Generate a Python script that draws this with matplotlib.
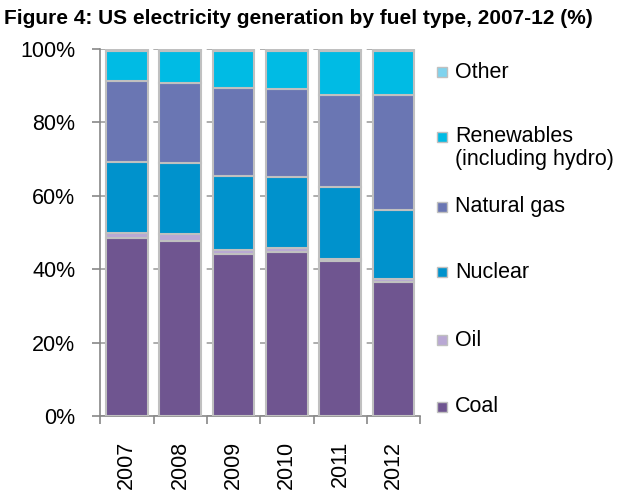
import matplotlib.pyplot as plt
from matplotlib.patches import Rectangle
import numpy as np

plt.rcParams['font.family'] = ['Liberation Sans', 'DejaVu Sans']

years = ["2007", "2008", "2009", "2010", "2011", "2012"]
coal = [48.5, 47.8, 44.1, 44.6, 42.3, 36.6]
oil = [1.5, 1.8, 1.2, 1.2, 0.5, 0.7]
nuclear = [19.3, 19.4, 20.2, 19.3, 19.5, 18.8]
natural_gas = [21.9, 21.8, 23.8, 24.0, 25.1, 31.3]
renewables = [8.2, 8.6, 10.1, 10.3, 12.0, 12.0]
other = [0.6, 0.6, 0.6, 0.6, 0.6, 0.6]

series = [
    ("Coal", coal, "#6f5590"),
    ("Oil", oil, "#b9a8d4"),
    ("Nuclear", nuclear, "#0092cc"),
    ("Natural gas", natural_gas, "#6a76b3"),
    ("Renewables\n(including hydro)", renewables, "#00bbe4"),
    ("Other", other, "#7fd3ee"),
]

fs = 15.5

fig = plt.figure(figsize=(6.3, 5), dpi=100)
ax = fig.add_axes([0.159, 0.168, 0.508, 0.734])

x = np.arange(len(years))
bottom = np.zeros(len(years))
for name, vals, color in series:
    ax.bar(x, vals, bottom=bottom, width=0.78, color=color,
           edgecolor="#c0c0c0", linewidth=1.5, zorder=3)
    bottom += np.array(vals)

ax.set_xlim(-0.5, len(years) - 0.5)
ax.set_ylim(0, 100)
ax.set_yticks([0, 20, 40, 60, 80, 100])
ax.set_yticklabels(["0%", "20%", "40%", "60%", "80%", "100%"], fontsize=fs)
ax.yaxis.grid(True, linestyle=(0, (4, 4)), color="#a0a0a0", linewidth=1.2, zorder=0)
ax.set_xticks(x)
ax.set_xticklabels(years, rotation=90, fontsize=fs)
ax.tick_params(axis="x", which="major", length=0, pad=18)
ax.set_xticks(np.arange(-0.5, len(years)), minor=True)
ax.tick_params(axis="x", which="minor", length=6, color="#888888", width=1.2)
ax.tick_params(axis="y", length=6, color="#888888", width=1.2, pad=12)
for s in ["top", "right"]:
    ax.spines[s].set_visible(False)
for s in ["left", "bottom"]:
    ax.spines[s].set_color("#888888")
    ax.spines[s].set_linewidth(1.2)

# legend drawn by hand to match the spacing of the original
legend_y = {"Other": 72, "Renewables\n(including hydro)": 137, "Natural gas": 207,
            "Nuclear": 272, "Oil": 340, "Coal": 407}
for name, vals, color in series:
    py = legend_y[name]
    fig.add_artist(Rectangle((437 / 630, 1 - (py + 5) / 500), 10 / 630, 10 / 500,
                             transform=fig.transFigure, facecolor=color,
                             edgecolor="#c0c0c0", linewidth=1))
    if "\n" in name:
        fig.text(455 / 630, 1 - (py - 11) / 500, name, fontsize=fs, va="top",
                 ha="left", linespacing=1.1)
    else:
        fig.text(455 / 630, 1 - py / 500, name, fontsize=fs, va="center", ha="left")

fig.text(0.006, 0.962, "Figure 4: US electricity generation by fuel type, 2007-12 (%)",
         fontsize=15, fontweight="bold", ha="left", va="center")

fig.savefig("out.png", dpi=100)
